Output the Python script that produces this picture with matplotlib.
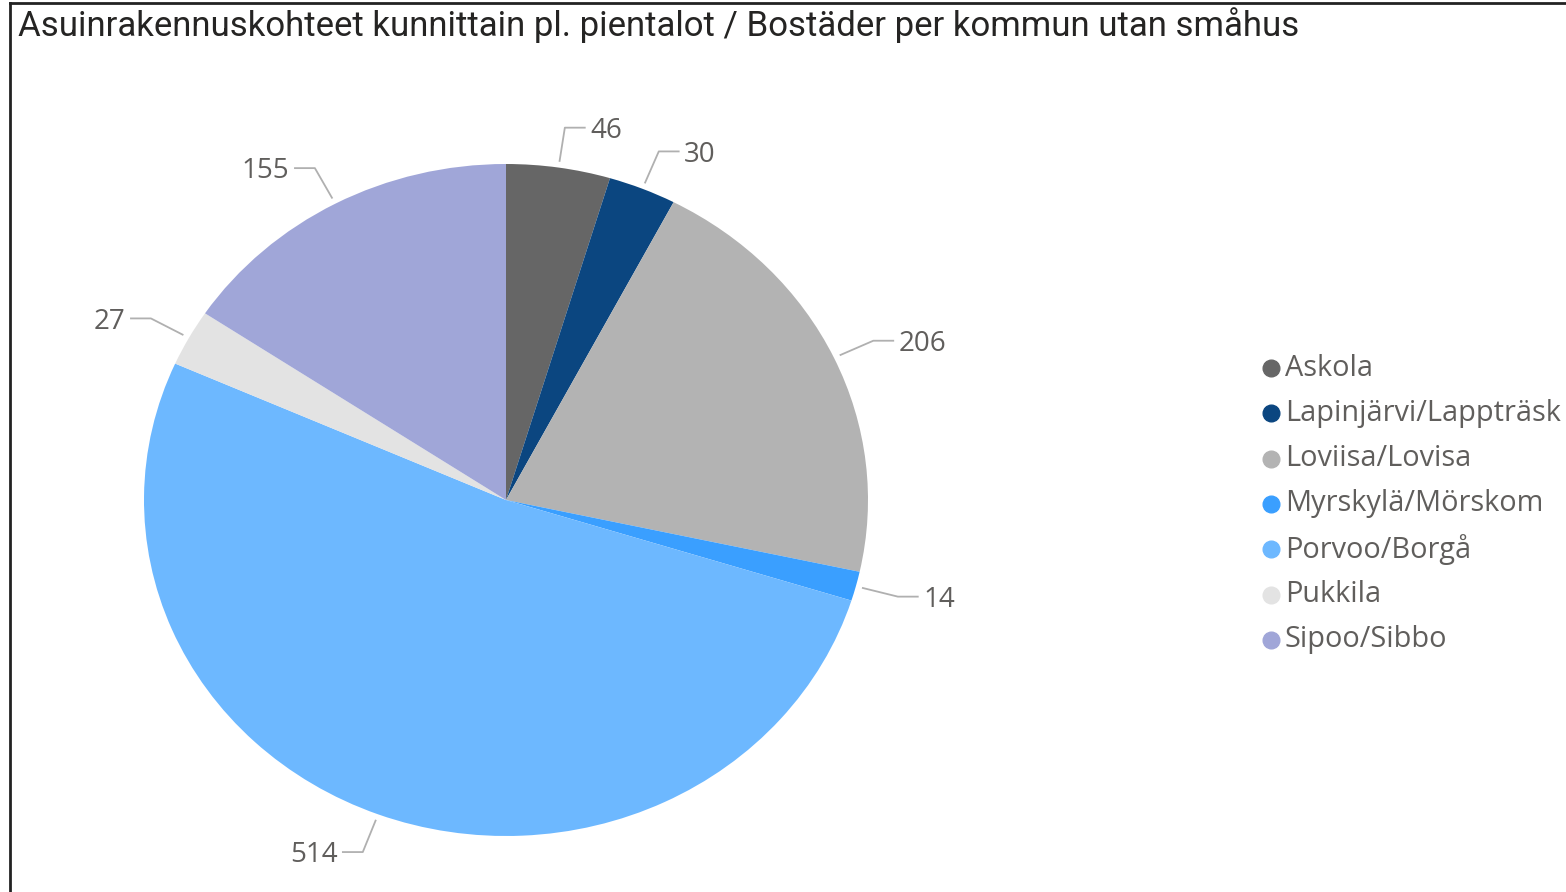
import numpy as np
import matplotlib
matplotlib.use('Agg')
import matplotlib.pyplot as plt
from matplotlib.lines import Line2D

# data
kunnat = ['Askola', 'Lapinjärvi/Lappträsk', 'Loviisa/Lovisa', 'Myrskylä/Mörskom',
          'Porvoo/Borgå', 'Pukkila', 'Sipoo/Sibbo']
arvot = [46, 30, 206, 14, 514, 27, 155]
varit = ['#666666', '#0b4680', '#b3b3b3', '#3a9fff', '#6db8ff', '#e3e3e3', '#a0a6d8']
otsikko = 'Asuinrakennuskohteet kunnittain pl. pientalot / Bostäder per kommun utan småhus'

W, H = 1566, 892
fig = plt.figure(figsize=(W / 100, H / 100), dpi=100)
plt.rcParams['font.family'] = ['Open Sans', 'DejaVu Sans']

def fx(x):
    return x / W

def fy(y):
    return 1 - y / H

# pie axes (ellipse, like the stretched original)
ax = fig.add_axes([fx(144), fy(836), 724 / W, 672 / H])
ax.pie(arvot, colors=varit, startangle=90, counterclock=False,
       wedgeprops=dict(linewidth=0))
ax.set_aspect('auto')
ax.set_xlim(-1, 1)
ax.set_ylim(-1, 1)
ax.axis('off')

# labels with leader lines
total = sum(arvot)
cum = 0
for v in arvot:
    mid = (cum + v / 2) / total * 2 * np.pi
    cum += v
    s, c = np.sin(mid), np.cos(mid)
    x0, y0 = 1.02 * s, 1.02 * c
    x1, y1 = 1.12 * s, 1.12 * c
    d = 1 if s >= 0 else -1
    x2 = x1 + d * 0.055
    ax.add_line(Line2D([x0, x1, x2], [y0, y1, y1], color='#b0b0b0', lw=1.3, clip_on=False))
    ax.text(x2 + d * 0.015, y1 - 0.01, str(v), ha='left' if d > 0 else 'right', va='center',
            fontsize=20, color='#605e5c', clip_on=False)

# title
fig.text(fx(18), fy(25), otsikko, fontsize=25, color='#252423', va='center', ha='left',
         family=['Roboto', 'DejaVu Sans'])

# legend
for i, (k, col) in enumerate(zip(kunnat, varit)):
    yy = 368 + i * 45.3
    fig.add_artist(Line2D([fx(1271)], [fy(yy)], marker='o', markersize=12,
                          color=col, linestyle='none'))
    fig.text(fx(1285), fy(yy), k, fontsize=20.8, color='#605e5c', va='center', ha='left')

# frame lines
fig.add_artist(Line2D([fx(10), fx(10)], [fy(3), 0], color='#222222', lw=2))
fig.add_artist(Line2D([fx(10), 1], [fy(3), fy(3)], color='#222222', lw=2))

fig.savefig('out.png', dpi=100)
